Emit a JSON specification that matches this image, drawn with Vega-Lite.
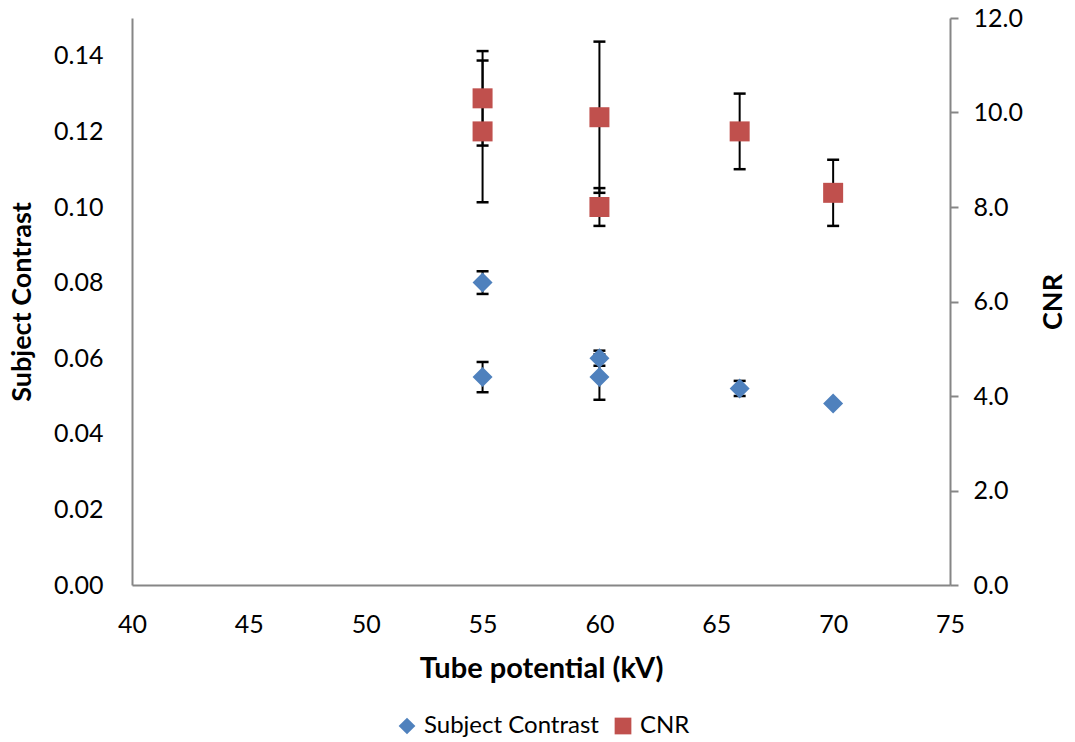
{
  "$schema": "https://vega.github.io/schema/vega-lite/v6.json",
  "width": 818,
  "height": 567,
  "autosize": {"type": "none"},
  "padding": {"left": 132, "top": 18, "right": 125, "bottom": 157},
  "background": "white",
  "config": {
    "view": {"stroke": null},
    "font": "Lato",
    "axis": {
      "grid": false,
      "domainColor": "#868686",
      "domainWidth": 2,
      "tickColor": "#868686",
      "tickWidth": 2,
      "labelFont": "Lato",
      "labelFontSize": 25,
      "labelColor": "#000000",
      "labelFlush": false,
      "titleFont": "Lato",
      "titleFontSize": 27,
      "titleFontWeight": "bold",
      "titleColor": "#000000"
    },
    "legend": {
      "labelFont": "Lato",
      "labelFontSize": 24,
      "labelColor": "#000000",
      "labelLimit": 0
    }
  },
  "data": {
    "values": [
      {"kv": 55, "sc": 0.080, "sc_lo": 0.077, "sc_hi": 0.083, "cnr": 10.3, "cnr_lo": 9.3, "cnr_hi": 11.3},
      {"kv": 55, "sc": 0.055, "sc_lo": 0.051, "sc_hi": 0.059, "cnr": 9.6, "cnr_lo": 8.1, "cnr_hi": 11.1},
      {"kv": 60, "sc": 0.060, "sc_lo": 0.058, "sc_hi": 0.062, "cnr": 9.9, "cnr_lo": 8.3, "cnr_hi": 11.5},
      {"kv": 60, "sc": 0.055, "sc_lo": 0.049, "sc_hi": 0.061, "cnr": 8.0, "cnr_lo": 7.6, "cnr_hi": 8.4},
      {"kv": 66, "sc": 0.052, "sc_lo": 0.050, "sc_hi": 0.054, "cnr": 9.6, "cnr_lo": 8.8, "cnr_hi": 10.4},
      {"kv": 70, "sc": 0.048, "sc_lo": null, "sc_hi": null, "cnr": 8.3, "cnr_lo": 7.6, "cnr_hi": 9.0}
    ]
  },
  "encoding": {
    "x": {
      "field": "kv", "type": "quantitative",
      "scale": {"domain": [40, 75], "nice": false, "zero": false},
      "axis": {
        "title": "Tube potential (kV)",
        "titleFontSize": 29,
        "values": [40, 45, 50, 55, 60, 65, 70, 75],
        "ticks": false,
        "labelPadding": 27,
        "titlePadding": 17
      }
    }
  },
  "layer": [
    {
      "layer": [
        {
          "transform": [{"filter": "isValid(datum.sc_lo)"}],
          "mark": {"type": "rule", "color": "#000000", "strokeWidth": 2},
          "encoding": {
            "y": {"field": "sc_lo", "type": "quantitative", "scale": {"domain": [0, 0.15], "nice": false},
              "axis": {"title": "Subject Contrast", "orient": "left", "values": [0, 0.02, 0.04, 0.06, 0.08, 0.10, 0.12, 0.14], "format": ".2f", "ticks": false, "labelPadding": 29, "titlePadding": 17}},
            "y2": {"field": "sc_hi"}
          }
        },
        {
          "transform": [{"filter": "isValid(datum.sc_lo)"}],
          "mark": {"type": "tick", "orient": "horizontal", "color": "#000000", "size": 12, "thickness": 2.5, "opacity": 1},
          "encoding": {
            "y": {"field": "sc_lo", "type": "quantitative",
              "axis": {"title": "Subject Contrast", "orient": "left", "values": [0, 0.02, 0.04, 0.06, 0.08, 0.10, 0.12, 0.14], "format": ".2f", "ticks": false, "labelPadding": 29, "titlePadding": 17}}
          }
        },
        {
          "transform": [{"filter": "isValid(datum.sc_hi)"}],
          "mark": {"type": "tick", "orient": "horizontal", "color": "#000000", "size": 12, "thickness": 2.5, "opacity": 1},
          "encoding": {
            "y": {"field": "sc_hi", "type": "quantitative",
              "axis": {"title": "Subject Contrast", "orient": "left", "values": [0, 0.02, 0.04, 0.06, 0.08, 0.10, 0.12, 0.14], "format": ".2f", "ticks": false, "labelPadding": 29, "titlePadding": 17}}
          }
        },
        {
          "mark": {"type": "point", "filled": true, "opacity": 1, "size": 400, "strokeWidth": 0},
          "encoding": {
            "y": {"field": "sc", "type": "quantitative",
              "axis": {"title": "Subject Contrast", "orient": "left", "values": [0, 0.02, 0.04, 0.06, 0.08, 0.10, 0.12, 0.14], "format": ".2f", "ticks": false, "labelPadding": 29, "titlePadding": 17}},
            "color": {
              "datum": "Subject Contrast",
              "type": "nominal",
              "scale": {"domain": ["Subject Contrast", "CNR"], "range": ["#4F81BD", "#C0504D"]},
              "legend": {
                "title": null,
                "orient": "none",
                "direction": "horizontal",
                "legendX": 263,
                "legendY": 696,
                "symbolSize": 280,
                "symbolStrokeWidth": 0,
                "labelOffset": 5,
                "columnPadding": 12
              }
            },
            "shape": {
              "datum": "Subject Contrast",
              "type": "nominal",
              "scale": {"domain": ["Subject Contrast", "CNR"], "range": ["diamond", "square"]}
            }
          }
        }
      ]
    },
    {
      "layer": [
        {
          "mark": {"type": "rule", "color": "#000000", "strokeWidth": 2},
          "encoding": {
            "y": {"field": "cnr_lo", "type": "quantitative", "scale": {"domain": [0, 12], "nice": false},
              "axis": {"title": "CNR", "orient": "right", "values": [0, 2, 4, 6, 8, 10, 12], "format": ".1f", "tickSize": 8, "labelPadding": 15, "titlePadding": 45, "titleAngle": 270}},
            "y2": {"field": "cnr_hi"}
          }
        },
        {
          "mark": {"type": "tick", "orient": "horizontal", "color": "#000000", "size": 12, "thickness": 2.5, "opacity": 1},
          "encoding": {
            "y": {"field": "cnr_lo", "type": "quantitative",
              "axis": {"title": "CNR", "orient": "right", "values": [0, 2, 4, 6, 8, 10, 12], "format": ".1f", "tickSize": 8, "labelPadding": 15, "titlePadding": 45, "titleAngle": 270}}
          }
        },
        {
          "mark": {"type": "tick", "orient": "horizontal", "color": "#000000", "size": 12, "thickness": 2.5, "opacity": 1},
          "encoding": {
            "y": {"field": "cnr_hi", "type": "quantitative",
              "axis": {"title": "CNR", "orient": "right", "values": [0, 2, 4, 6, 8, 10, 12], "format": ".1f", "tickSize": 8, "labelPadding": 15, "titlePadding": 45, "titleAngle": 270}}
          }
        },
        {
          "mark": {"type": "point", "filled": true, "opacity": 1, "size": 400, "strokeWidth": 0},
          "encoding": {
            "y": {"field": "cnr", "type": "quantitative",
              "axis": {"title": "CNR", "orient": "right", "values": [0, 2, 4, 6, 8, 10, 12], "format": ".1f", "tickSize": 8, "labelPadding": 15, "titlePadding": 45, "titleAngle": 270}},
            "color": {"datum": "CNR", "type": "nominal"},
            "shape": {"datum": "CNR", "type": "nominal"}
          }
        }
      ]
    }
  ],
  "resolve": {"scale": {"y": "independent"}}
}
